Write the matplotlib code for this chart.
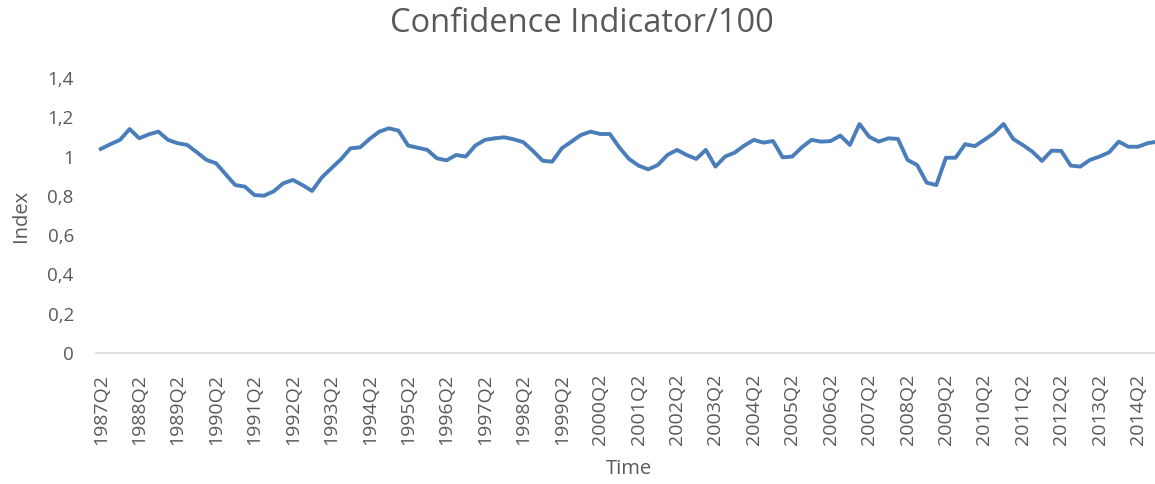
import numpy as np
import matplotlib
matplotlib.use('Agg')
import matplotlib.pyplot as plt

# quarterly confidence indicator / 100, 1987Q2 .. 2014Q4
values = [1.039, 1.063, 1.085, 1.140, 1.093, 1.113, 1.127, 1.085, 1.068, 1.059,
          1.022, 0.983, 0.966, 0.910, 0.855, 0.847, 0.804, 0.801, 0.823, 0.864,
          0.881, 0.855, 0.825, 0.893, 0.940, 0.986, 1.042, 1.047, 1.090, 1.127,
          1.144, 1.132, 1.056, 1.045, 1.034, 0.991, 0.981, 1.008, 1.000, 1.056,
          1.085, 1.093, 1.098, 1.088, 1.073, 1.029, 0.979, 0.974, 1.042, 1.076,
          1.110, 1.127, 1.115, 1.115, 1.046, 0.988, 0.954, 0.935, 0.957, 1.008,
          1.034, 1.008, 0.988, 1.034, 0.949, 1.000, 1.020, 1.056, 1.085, 1.071,
          1.079, 0.996, 1.000, 1.047, 1.085, 1.076, 1.079, 1.107, 1.059, 1.166,
          1.101, 1.076, 1.093, 1.090, 0.983, 0.957, 0.867, 0.855, 0.994, 0.994,
          1.063, 1.053, 1.085, 1.119, 1.166, 1.090, 1.059, 1.025, 0.978, 1.030,
          1.029, 0.954, 0.949, 0.983, 1.000, 1.022, 1.076, 1.050, 1.050, 1.068,
          1.076]

xtick_labels = ['1987Q2', '1988Q2', '1989Q2', '1990Q2', '1991Q2', '1992Q2', '1993Q2',
                '1994Q2', '1995Q2', '1996Q2', '1997Q2', '1998Q2', '1999Q2', '2000Q2',
                '2001Q2', '2002Q2', '2003Q2', '2004Q2', '2005Q2', '2006Q2', '2007Q2',
                '2008Q2', '2009Q2', '2010Q2', '2011Q2', '2012Q2', '2013Q2', '2014Q2']
ytick_vals = [0, 0.2, 0.4, 0.6, 0.8, 1.0, 1.2, 1.4]
ytick_labels = ['0', '0,2', '0,4', '0,6', '0,8', '1', '1,2', '1,4']

plt.rcParams['font.family'] = ['Open Sans', 'DejaVu Sans']
grey = '#595959'

W, H = 1155, 484
fig = plt.figure(figsize=(W / 100, H / 100), dpi=100)
ax = fig.add_axes([96 / W, (H - 353) / H, 1066 / W, 275 / H])

x = np.arange(len(values))
ax.plot(x, values, color='#4A7EBB', linewidth=2.8, solid_joinstyle='round')

ax.set_xlim(-0.5, len(values) - 0.5)
ax.set_ylim(0, 1.4)
ax.set_xticks(np.arange(0, len(values), 4)[:len(xtick_labels)])
ax.set_xticklabels(xtick_labels, rotation=90, fontsize=14, color=grey)
ax.set_yticks(ytick_vals)
ax.set_yticklabels(ytick_labels, fontsize=13.5, color=grey)
ax.tick_params(axis='both', length=0)
ax.tick_params(axis='x', pad=15)
ax.tick_params(axis='y', pad=16)

for s in ['top', 'right', 'left']:
    ax.spines[s].set_visible(False)
ax.spines['bottom'].set_color('#d9d9d9')
ax.spines['bottom'].set_linewidth(1.2)

ax.set_ylabel('Index', fontsize=14.5, color=grey, labelpad=12)
ax.set_xlabel('Time', fontsize=14.5, color=grey, labelpad=10)
fig.text(582 / W, 1 - 24 / H, 'Confidence Indicator/100', fontsize=23.5, color=grey,
         ha='center', va='center')

fig.savefig('out.png', dpi=100)
